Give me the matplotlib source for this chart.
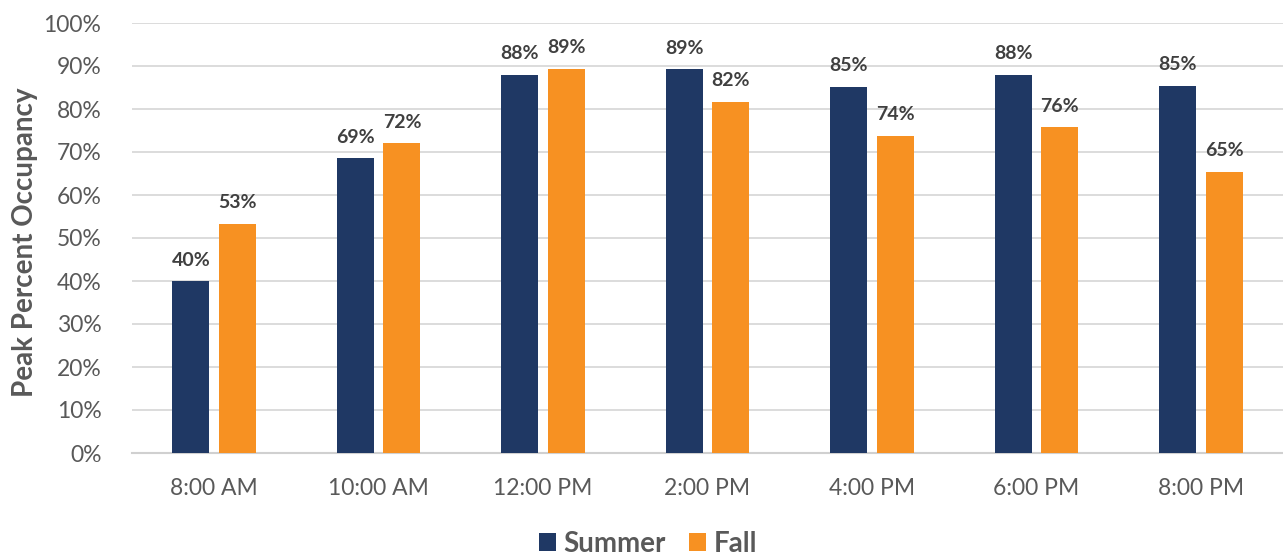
import matplotlib
matplotlib.use("Agg")
import matplotlib.pyplot as plt
import numpy as np
from matplotlib.ticker import FuncFormatter, MultipleLocator

plt.rcParams['font.family'] = ['Lato', 'DejaVu Sans']

times = ["8:00 AM", "10:00 AM", "12:00 PM", "2:00 PM", "4:00 PM", "6:00 PM", "8:00 PM"]
summer = [40.0, 68.6, 88.0, 89.3, 85.2, 88.0, 85.4]
fall = [53.3, 72.0, 89.4, 81.7, 73.8, 75.8, 65.4]
series_names = ["Summer", "Fall"]

navy = "#1F3864"
orange = "#F79122"
text_grey = "#595959"
label_grey = "#404040"

fig = plt.figure(figsize=(12.83, 5.55), dpi=100)
ax = fig.add_axes([132 / 1283, 1 - 453 / 555, (1283 - 132) / 1283, 430 / 555])

x = np.arange(len(times))
w = 0.225
off = 0.142
b1 = ax.bar(x - off, summer, w, color=navy, label=series_names[0], zorder=3)
b2 = ax.bar(x + off, fall, w, color=orange, label=series_names[1], zorder=3)

for bars, vals in ((b1, summer), (b2, fall)):
    for rect, v in zip(bars, vals):
        ax.annotate(f"{v:.0f}%", (rect.get_x() + rect.get_width() / 2, v),
                    xytext=(0, 9), textcoords="offset points", ha="center", va="bottom",
                    fontsize=14, fontweight="bold", color=label_grey)

ax.set_xlim(-0.5, len(times) - 0.5)
ax.set_ylim(0, 100)
ax.yaxis.set_major_locator(MultipleLocator(10))
ax.yaxis.set_major_formatter(FuncFormatter(lambda v, p: f"{v:.0f}%"))
ax.set_xticks(x)
ax.set_xticklabels(times)
ax.tick_params(axis="both", length=0, labelsize=16.5, colors=text_grey)
ax.tick_params(axis="x", pad=18)
ax.tick_params(axis="y", pad=22)
ax.grid(axis="y", color="#D9D9D9", linewidth=1.3, zorder=0)
for s in ("top", "right", "left"):
    ax.spines[s].set_visible(False)
ax.spines["bottom"].set_color("#D0D0D0")
ax.spines["bottom"].set_linewidth(1.5)

ax.set_ylabel("Peak Percent Occupancy", fontsize=20, fontweight="bold", color=text_grey)
ax.yaxis.set_label_coords(-0.082, 0.49)

leg = fig.legend(handles=[b1, b2], labels=series_names, loc="lower center",
                 bbox_to_anchor=(0.505, -0.049), ncol=2, frameon=False,
                 handlelength=0.62, handleheight=0.62, handletextpad=0.25, columnspacing=0.85,
                 prop={"size": 20, "weight": "bold"})
for t in leg.get_texts():
    t.set_color(text_grey)

fig.savefig("out.png", dpi=100)
